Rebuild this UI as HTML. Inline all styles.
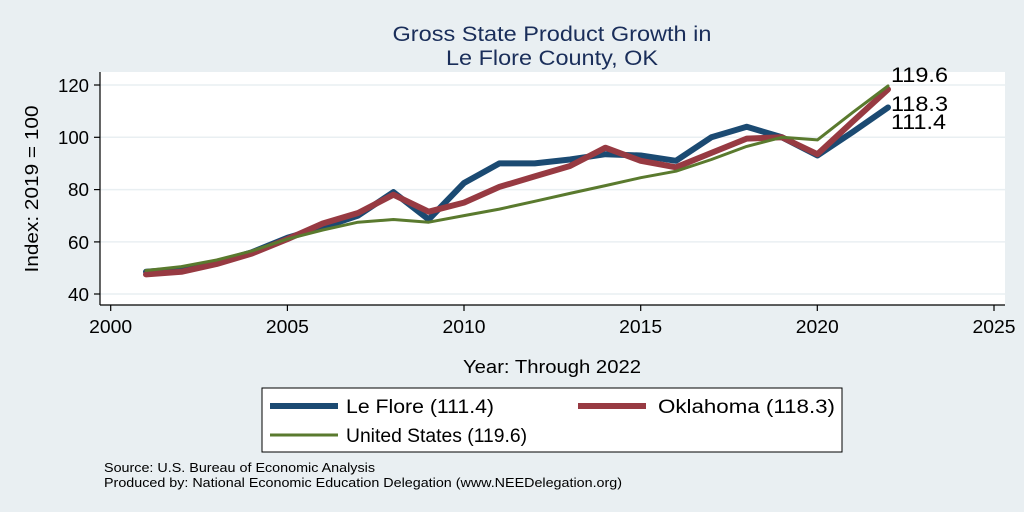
<!DOCTYPE html>
<html><head><style>body{margin:0;background:#e9eff2}svg{display:block}</style></head><body>
<svg width="1024" height="512" xmlns="http://www.w3.org/2000/svg" font-family="Liberation Sans, Arial, sans-serif">
<rect width="1024" height="512" fill="#e9eff2"/>
<rect x="100" y="72" width="905" height="233" fill="#fff"/>
<g stroke="#e9eff2" stroke-width="1.5">
<line x1="100" x2="1005" y1="85" y2="85"/><line x1="100" x2="1005" y1="137.3" y2="137.3"/><line x1="100" x2="1005" y1="189.6" y2="189.6"/><line x1="100" x2="1005" y1="241.9" y2="241.9"/><line x1="100" x2="1005" y1="294" y2="294"/>
</g>
<g stroke="#000" stroke-width="1.2">
<line x1="100" y1="72" x2="100" y2="305"/><line x1="100" y1="305" x2="1005" y2="305"/>
<line x1="94" x2="100" y1="85" y2="85"/><line x1="94" x2="100" y1="137.3" y2="137.3"/><line x1="94" x2="100" y1="189.6" y2="189.6"/><line x1="94" x2="100" y1="241.9" y2="241.9"/><line x1="94" x2="100" y1="294" y2="294"/>
<line x1="110.7" x2="110.7" y1="305" y2="311"/><line x1="287.4" x2="287.4" y1="305" y2="311"/><line x1="464" x2="464" y1="305" y2="311"/><line x1="640.7" x2="640.7" y1="305" y2="311"/><line x1="817.3" x2="817.3" y1="305" y2="311"/><line x1="994" x2="994" y1="305" y2="311"/>
</g>
<g font-size="18" text-anchor="end" fill="#000">
<text x="89" y="92" textLength="31" lengthAdjust="spacingAndGlyphs">120</text><text x="89" y="144" textLength="31" lengthAdjust="spacingAndGlyphs">100</text><text x="89" y="196" textLength="21" lengthAdjust="spacingAndGlyphs">80</text><text x="89" y="249" textLength="21" lengthAdjust="spacingAndGlyphs">60</text><text x="89" y="301" textLength="21" lengthAdjust="spacingAndGlyphs">40</text>
</g>
<g font-size="18" text-anchor="middle" fill="#000">
<text x="110.7" y="333" textLength="43" lengthAdjust="spacingAndGlyphs">2000</text><text x="287.4" y="333" textLength="43" lengthAdjust="spacingAndGlyphs">2005</text><text x="464" y="333" textLength="43" lengthAdjust="spacingAndGlyphs">2010</text><text x="640.7" y="333" textLength="43" lengthAdjust="spacingAndGlyphs">2015</text><text x="817.3" y="333" textLength="43" lengthAdjust="spacingAndGlyphs">2020</text><text x="994" y="333" textLength="43" lengthAdjust="spacingAndGlyphs">2025</text>
<text x="552" y="373" textLength="178" lengthAdjust="spacingAndGlyphs">Year: Through 2022</text>
<text transform="translate(38,189) rotate(-90)" textLength="167" lengthAdjust="spacingAndGlyphs">Index: 2019 = 100</text>
</g>
<g font-size="21" text-anchor="middle" fill="#1a2e5a">
<text x="552" y="41" textLength="319" lengthAdjust="spacingAndGlyphs">Gross State Product Growth in</text><text x="552" y="65" textLength="212" lengthAdjust="spacingAndGlyphs">Le Flore County, OK</text>
</g>
<g fill="none" stroke-linejoin="round" stroke-linecap="round">
<polyline id="lf" stroke="#1b4a72" stroke-width="6" points=""/>
<polyline id="ok" stroke="#973a42" stroke-width="6" points=""/>
<polyline id="us" stroke="#5a7a2e" stroke-width="3" points=""/>
</g>
<g font-size="21" fill="#000">
<text x="891" y="82" textLength="57" lengthAdjust="spacingAndGlyphs">119.6</text><text x="891" y="111" textLength="57" lengthAdjust="spacingAndGlyphs">118.3</text><text x="891" y="129" textLength="55" lengthAdjust="spacingAndGlyphs">111.4</text>
</g>
<rect x="262" y="388" width="580" height="64" fill="#fff" stroke="#000" stroke-width="1"/>
<line x1="270" x2="338" y1="406" y2="406" stroke="#1b4a72" stroke-width="6"/>
<line x1="578" x2="646" y1="406" y2="406" stroke="#973a42" stroke-width="6"/>
<line x1="270" x2="338" y1="435" y2="435" stroke="#5a7a2e" stroke-width="3"/>
<g font-size="19" fill="#000">
<text x="346" y="413" textLength="148" lengthAdjust="spacingAndGlyphs">Le Flore  (111.4)</text><text x="658" y="413" textLength="177" lengthAdjust="spacingAndGlyphs">Oklahoma (118.3)</text><text x="346" y="442" textLength="181" lengthAdjust="spacingAndGlyphs">United States (119.6)</text>
</g>
<g font-size="13" fill="#000"><text x="104" y="472" textLength="271" lengthAdjust="spacingAndGlyphs">Source: U.S. Bureau of Economic Analysis</text><text x="104" y="487" textLength="518" lengthAdjust="spacingAndGlyphs">Produced by: National Economic Education Delegation (www.NEEDelegation.org)</text></g>
<script>
const d={lf:[48.5,49.5,52,56,61.5,65.5,70,79,68.5,82.5,90,90,91.5,93.5,93,91,100,104,100,93,102,111.4],
ok:[47.5,48.5,51.5,55.5,61,67,71,78,71.5,75,81,85,89,96,91,88.5,94,99.5,100,93.5,106,118.3],
us:[49,50.5,53,56.5,61,64.5,67.5,68.5,67.5,70,72.5,75.5,78.5,81.5,84.5,87,91.5,96.5,100,99,109.5,119.6]};
for(const k in d){document.getElementById(k).setAttribute('points',d[k].map((v,i)=>(110.7+(i+1)*35.333).toFixed(1)+','+(294-(v-40)*2.6125).toFixed(1)).join(' '));}
</script>
</svg>
</body></html>
